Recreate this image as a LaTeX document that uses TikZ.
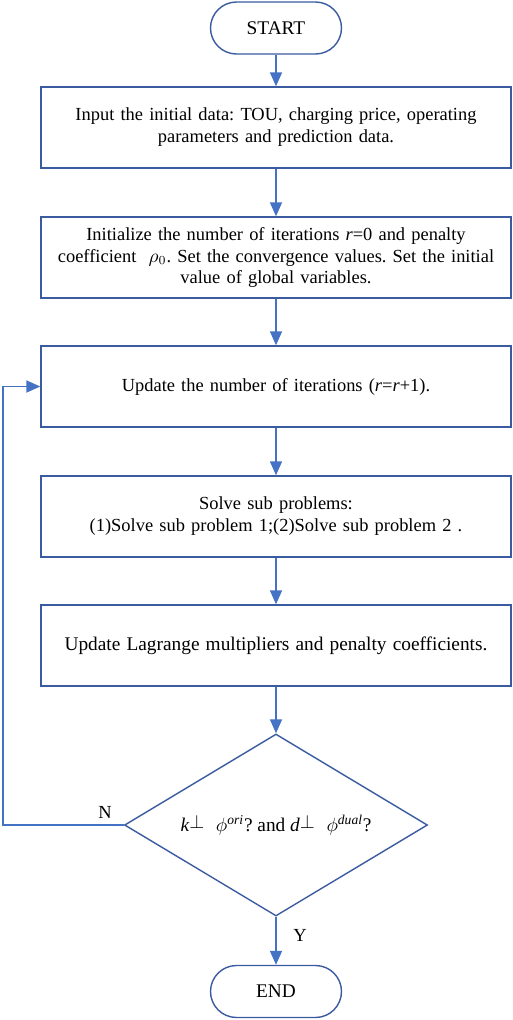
\documentclass[tikz,border=0pt]{standalone}
\usepackage{fontspec}
\setmainfont{Liberation Serif}
\usetikzlibrary{arrows.meta, positioning, shapes.geometric}
\definecolor{flowBlue}{HTML}{4472C4}
\definecolor{boxBlue}{HTML}{3A5BA0}
\frenchspacing

\begin{document}
\begin{tikzpicture}[
    font=\fontsize{10.5}{12.5}\selectfont,
    term/.style={draw=boxBlue, line width=0.8pt, rounded corners=0.52cm,
                 minimum width=2.62cm, minimum height=1.04cm, font=\fontsize{11}{13}\selectfont},
    caja/.style={draw=boxBlue, line width=0.8pt, align=center,
                 minimum width=9.4cm, minimum height=1.62cm, text width=9cm},
    rombo/.style={draw=boxBlue, line width=0.8pt, diamond, aspect=1.66,
                  inner sep=0pt, minimum width=6.06cm, minimum height=3.64cm},
    fl/.style={-{Triangle[length=2.8mm, width=2.4mm]}, line width=1pt, color=flowBlue}]
    \useasboundingbox (0,0) rectangle (10.24,-20.4);
    \node[term]  (start) at (5.52,-0.56)  {START};
    \node[caja]  (inp)   at (5.52,-2.55)  {Input the initial data: TOU, charging price, operating\\parameters and prediction data.};
    \node[caja]  (init)  at (5.52,-5.15)  {Initialize the number of iterations \textit{r}=0 and penalty\\coefficient \ $\rho_{0}$. Set the convergence values. Set the initial\\value of global variables.};
    \node[caja]  (upd)   at (5.52,-7.73)  {Update the number of iterations (\textit{r}=\textit{r}+1).};
    \node[caja]  (solve) at (5.52,-10.33) {Solve sub problems:\\(1)Solve sub problem 1;(2)Solve sub problem 2 .};
    \node[caja]  (lag)   at (5.52,-12.91) {\fontsize{11}{13}\selectfont Update Lagrange multipliers and penalty coefficients.};
    \node[rombo] (dec)   at (5.52,-16.5)  {\fontsize{11}{13}\selectfont\textit{k}\raisebox{0.3ex}{$\perp$}\hspace{0.6em}$\phi^{\mathit{ori}}$? and \textit{d}\raisebox{0.3ex}{$\perp$}\hspace{0.6em}$\phi^{\mathit{dual}}$?};
    \node[term]  (end)   at (5.52,-19.83) {END};
    \coordinate (loop) at (0.06,-16.5);
    \draw[fl] (start) -- (inp); \draw[fl] (inp) -- (init); \draw[fl] (init) -- (upd);
    \draw[fl] (upd) -- (solve); \draw[fl] (solve) -- (lag); \draw[fl] (lag) -- (dec);
    \draw[fl] (dec) -- (end);
    \draw[fl] (dec.west) -- (loop) |- (upd.west);
    \node at (2.1,-16.24) {N};
    \node at (6.0,-18.7)  {Y};
  \end{tikzpicture}
\end{document}
